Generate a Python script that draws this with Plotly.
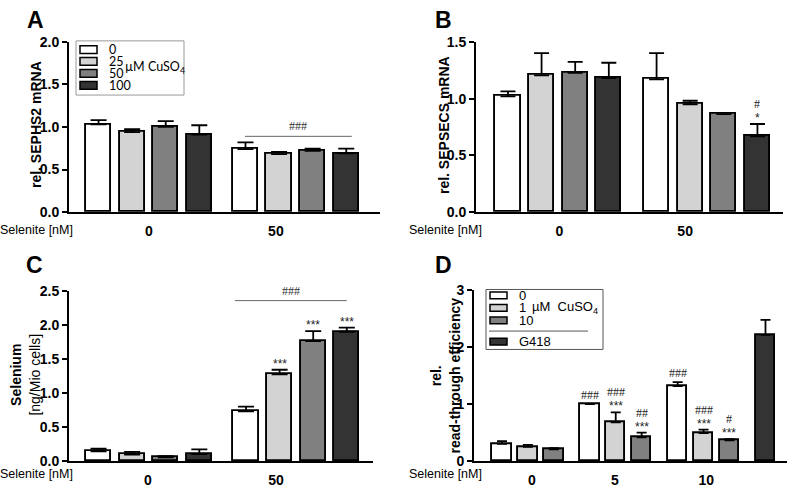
import plotly.graph_objects as go

W, H = 787, 489

# ---------------- data ----------------
cu_levels_ABC = ["0", "25", "50", "100"]
cu_levels_D = ["0", "1", "10"]
selenite_ABC = ["0", "50"]
selenite_D = ["0", "5", "10"]

# rows = CuSO4 level, columns = selenite group
sephs2_mean = [[1.03, 0.74], [0.94, 0.68], [1.00, 0.72], [0.91, 0.69]]
sephs2_sem = [[0.05, 0.08], [0.035, 0.026], [0.068, 0.026], [0.11, 0.056]]

sepsecs_mean = [[1.02, 1.17], [1.205, 0.95], [1.227, 0.864], [1.18, 0.668]]
sepsecs_sem = [[0.043, 0.23], [0.195, 0.031], [0.097, 0.0], [0.136, 0.108]]
sepsecs_star = [["", ""], ["", ""], ["", ""], ["", "*"]]
sepsecs_hash = [["", ""], ["", ""], ["", ""], ["", "#"]]

selenium_mean = [[0.142, 0.73], [0.095, 1.276], [0.052, 1.765], [0.10, 1.902]]
selenium_sem = [[0.038, 0.07], [0.038, 0.067], [0.019, 0.147], [0.071, 0.062]]
selenium_star = [["", ""], ["", "***"], ["", "***"], ["", "***"]]

readthrough_mean = [[0.30, 1.0, 1.313], [0.249, 0.68, 0.49], [0.204, 0.413, 0.362]]
readthrough_sem = [[0.05, 0.0, 0.073], [0.034, 0.175, 0.059], [0.022, 0.085, 0.023]]
readthrough_star = [["", "", ""], ["", "***", "***"], ["", "***", "***"]]
readthrough_hash = [["", "###", "###"], ["", "###", "###"], ["", "##", "#"]]
g418_mean = [2.213]
g418_sem = [0.266]

sephs2_bracket = "###"
selenium_bracket = "###"

# ---------------- style ----------------
FILLS = ["#ffffff", "#d3d3d3", "#808080", "#333333"]
ARIAL = "Liberation Sans, Arial, sans-serif"
TIMES = "Liberation Serif, Times New Roman, serif"
CALIBRI = "Lato, Carlito, sans-serif"

fig = go.Figure()


def px_x(p):
    return p / W


def px_y(p):
    return 1 - p / H


panels = {
    "A": dict(ax="", xd=(69, 380), yd=(35, 211), xr=[-0.88, 8.38], ymax=2.0, dtick=0.5, fmt=".1f",
              offsets=[0, 4.375], ticks=[1.5, 5.28], cap=8),
    "B": dict(ax="2", xd=(476, 783), yd=(35, 211), xr=[-0.95, 8.18], ymax=1.5, dtick=0.5, fmt=".1f",
              offsets=[0, 4.42], ticks=[1.53, 5.27], cap=7.5),
    "C": dict(ax="3", xd=(69, 373), yd=(292.7, 468.3), xr=[-0.88, 8.17], ymax=2.5, dtick=0.5, fmt=".1f",
              offsets=[0, 4.39], ticks=[1.47, 5.28], cap=8),
    "D": dict(ax="4", xd=(474, 787), yd=(291.7, 468.3), xr=[-1.08, 11.0], ymax=3, dtick=1, fmt="d",
              offsets=[0, 3.39, 6.78], ticks=[1.15, 4.36, 7.88], cap=5),
}
G418_POS = 10.17
BAR_W = 0.75

annotations = []
shapes = []


def add_series(p, means, sems, stars=None, hashes=None):
    xa = "x" + p["ax"]
    ya = "y" + p["ax"]
    for i, (m, s) in enumerate(zip(means, sems)):
        xs = [p["offsets"][g] + i for g in range(len(m))]
        fig.add_trace(go.Bar(
            x=xs, y=m, width=BAR_W, xaxis=xa, yaxis=ya, showlegend=False,
            marker=dict(color=FILLS[i], line=dict(color="black", width=1.9)),
            error_y=dict(type="data", array=s, arrayminus=[0] * len(s), symmetric=False,
                         color="black", thickness=1.8, width=p["cap"]),
        ))
        for g in range(len(m)):
            top = m[g] + s[g]
            st = stars[i][g] if stars else ""
            hs = hashes[i][g] if hashes else ""
            if st:
                annotations.append(dict(x=xs[g], y=top, xref=xa, yref=ya, text=st, showarrow=False,
                                        yanchor="bottom", yshift=-3,
                                        font=dict(family=ARIAL, size=12, color="#222")))
            if hs:
                annotations.append(dict(x=xs[g], y=top, xref=xa, yref=ya, text=hs, showarrow=False,
                                        yanchor="bottom", yshift=11 if st else 0,
                                        font=dict(family=TIMES, size=12, color="#222")))


add_series(panels["A"], sephs2_mean, sephs2_sem)
add_series(panels["B"], sepsecs_mean, sepsecs_sem, sepsecs_star, sepsecs_hash)
add_series(panels["C"], selenium_mean, selenium_sem, selenium_star)
add_series(panels["D"], readthrough_mean, readthrough_sem, readthrough_star, readthrough_hash)
fig.add_trace(go.Bar(
    x=[G418_POS], y=g418_mean, width=BAR_W, xaxis="x4", yaxis="y4", showlegend=False,
    marker=dict(color=FILLS[3], line=dict(color="black", width=1.9)),
    error_y=dict(type="data", array=g418_sem, arrayminus=[0], symmetric=False,
                 color="black", thickness=1.8, width=5),
))

# bracket lines over the 50 nM group (A and C)
for key, yline, x0, x1, txt in [("A", 0.89, 4.36, 7.54, sephs2_bracket),
                                ("C", 2.36, 4.06, 7.39, selenium_bracket)]:
    p = panels[key]
    xa, ya = "x" + p["ax"], "y" + p["ax"]
    shapes.append(dict(type="line", xref=xa, yref=ya, x0=x0, x1=x1, y0=yline, y1=yline,
                       line=dict(color="#666", width=1)))
    annotations.append(dict(x=(x0 + x1) / 2, y=yline, xref=xa, yref=ya, text=txt, showarrow=False,
                            yanchor="bottom", yshift=1, font=dict(family=TIMES, size=12, color="#333")))

layout = dict(width=W, height=H, margin=dict(l=0, r=0, t=0, b=0),
              paper_bgcolor="white", plot_bgcolor="white", showlegend=False,
              bargap=0)

tick_labels = {"A": selenite_ABC, "B": selenite_ABC, "C": selenite_ABC, "D": selenite_D}
for key, p in panels.items():
    xname = "xaxis" + p["ax"]
    yname = "yaxis" + p["ax"]
    layout[xname] = dict(domain=[px_x(p["xd"][0]), px_x(p["xd"][1])], range=p["xr"],
                         anchor="y" + p["ax"], showline=True, linecolor="black", linewidth=2,
                         ticks="", tickvals=p["ticks"], ticktext=tick_labels[key],
                         tickfont=dict(family=ARIAL, size=14, color="black", weight="bold"),
                         ticklabelstandoff=5,
                         showgrid=False, zeroline=False, fixedrange=True)
    layout[yname] = dict(domain=[px_y(p["yd"][1]), px_y(p["yd"][0])], range=[0, p["ymax"]],
                         anchor="x" + p["ax"], showline=True, linecolor="black", linewidth=2,
                         ticks="outside", ticklen=5, tickwidth=1.8, tickcolor="black",
                         dtick=p["dtick"], tick0=0, tickformat=p["fmt"],
                         tickfont=dict(family=ARIAL, size=14, color="black", weight="bold"),
                         showgrid=False, zeroline=False, fixedrange=True)


def pa(x, y, text, size=14, family=ARIAL, xanchor="center", yanchor="middle", angle=0, color="black"):
    annotations.append(dict(x=px_x(x), y=px_y(y), xref="paper", yref="paper", text=text,
                            showarrow=False, xanchor=xanchor, yanchor=yanchor, textangle=angle,
                            font=dict(family=family, size=size, color=color), align="center"))


# panel letters
pa(35, 12, "<b>A</b>", size=23)
pa(443, 12, "<b>B</b>", size=23)
pa(34, 266, "<b>C</b>", size=23)
pa(443, 266, "<b>D</b>", size=23)

# y-axis titles
pa(36, 121, "<b>rel. SEPHS2 mRNA</b>", angle=-90)
pa(444, 121, "<b>rel. SEPSECS mRNA</b>", angle=-90)
pa(25, 379, "<b>Selenium</b><br>[ng/Mio cells]", angle=-90)
pa(445, 380, "<b>rel.</b><br><b>read-through efficiency</b>", angle=-90)

# x-axis row labels
pa(36, 230, "Selenite [nM]", size=12.5)
pa(445, 230, "Selenite [nM]", size=12.5)
pa(36, 482, "Selenite [nM]", size=12.5)
pa(445, 482, "Selenite [nM]", size=12.5)

# legend A (manual)
shapes.append(dict(type="rect", xref="paper", yref="paper", x0=px_x(76), x1=px_x(184),
                   y0=px_y(90), y1=px_y(34), line=dict(color="#999", width=1), fillcolor="white"))
legA_y = [43, 55.3, 67.6, 80]
for i, lab in enumerate(cu_levels_ABC):
    shapes.append(dict(type="rect", xref="paper", yref="paper", x0=px_x(80), x1=px_x(97),
                       y0=px_y(legA_y[i] + 4), y1=px_y(legA_y[i] - 4),
                       line=dict(color="black", width=1.5), fillcolor=FILLS[i]))
    pa(107, legA_y[i], lab, size=12.5, family=CALIBRI, xanchor="left")
pa(123, 61.5, "µM CuSO<sub>4</sub>", size=12.5, family=CALIBRI, xanchor="left")

# legend D (manual)
shapes.append(dict(type="rect", xref="paper", yref="paper", x0=px_x(486), x1=px_x(603),
                   y0=px_y(353), y1=px_y(291), line=dict(color="#555", width=1), fillcolor="white"))
legD_y = [297, 310, 323]
for i, lab in enumerate(cu_levels_D):
    shapes.append(dict(type="rect", xref="paper", yref="paper", x0=px_x(490), x1=px_x(507),
                       y0=px_y(legD_y[i] + 3.5), y1=px_y(legD_y[i] - 3.5),
                       line=dict(color="black", width=1.5), fillcolor=FILLS[i]))
    pa(517, legD_y[i], lab, size=13, xanchor="left")
pa(530, 310, "µM  CuSO<sub>4</sub>", size=13, xanchor="left")
shapes.append(dict(type="line", xref="paper", yref="paper", x0=px_x(489), x1=px_x(588),
                   y0=px_y(334), y1=px_y(334), line=dict(color="#555", width=1)))
shapes.append(dict(type="rect", xref="paper", yref="paper", x0=px_x(490), x1=px_x(507),
                   y0=px_y(348.5), y1=px_y(341.5), line=dict(color="black", width=1.5), fillcolor=FILLS[3]))
pa(517, 345, "G418", size=13, xanchor="left")

layout["annotations"] = annotations
layout["shapes"] = shapes
fig.update_layout(**layout)
fig.write_html("out.html", config={"displayModeBar": False},
               post_script="document.body.style.margin='0';document.body.style.overflow='hidden';")
